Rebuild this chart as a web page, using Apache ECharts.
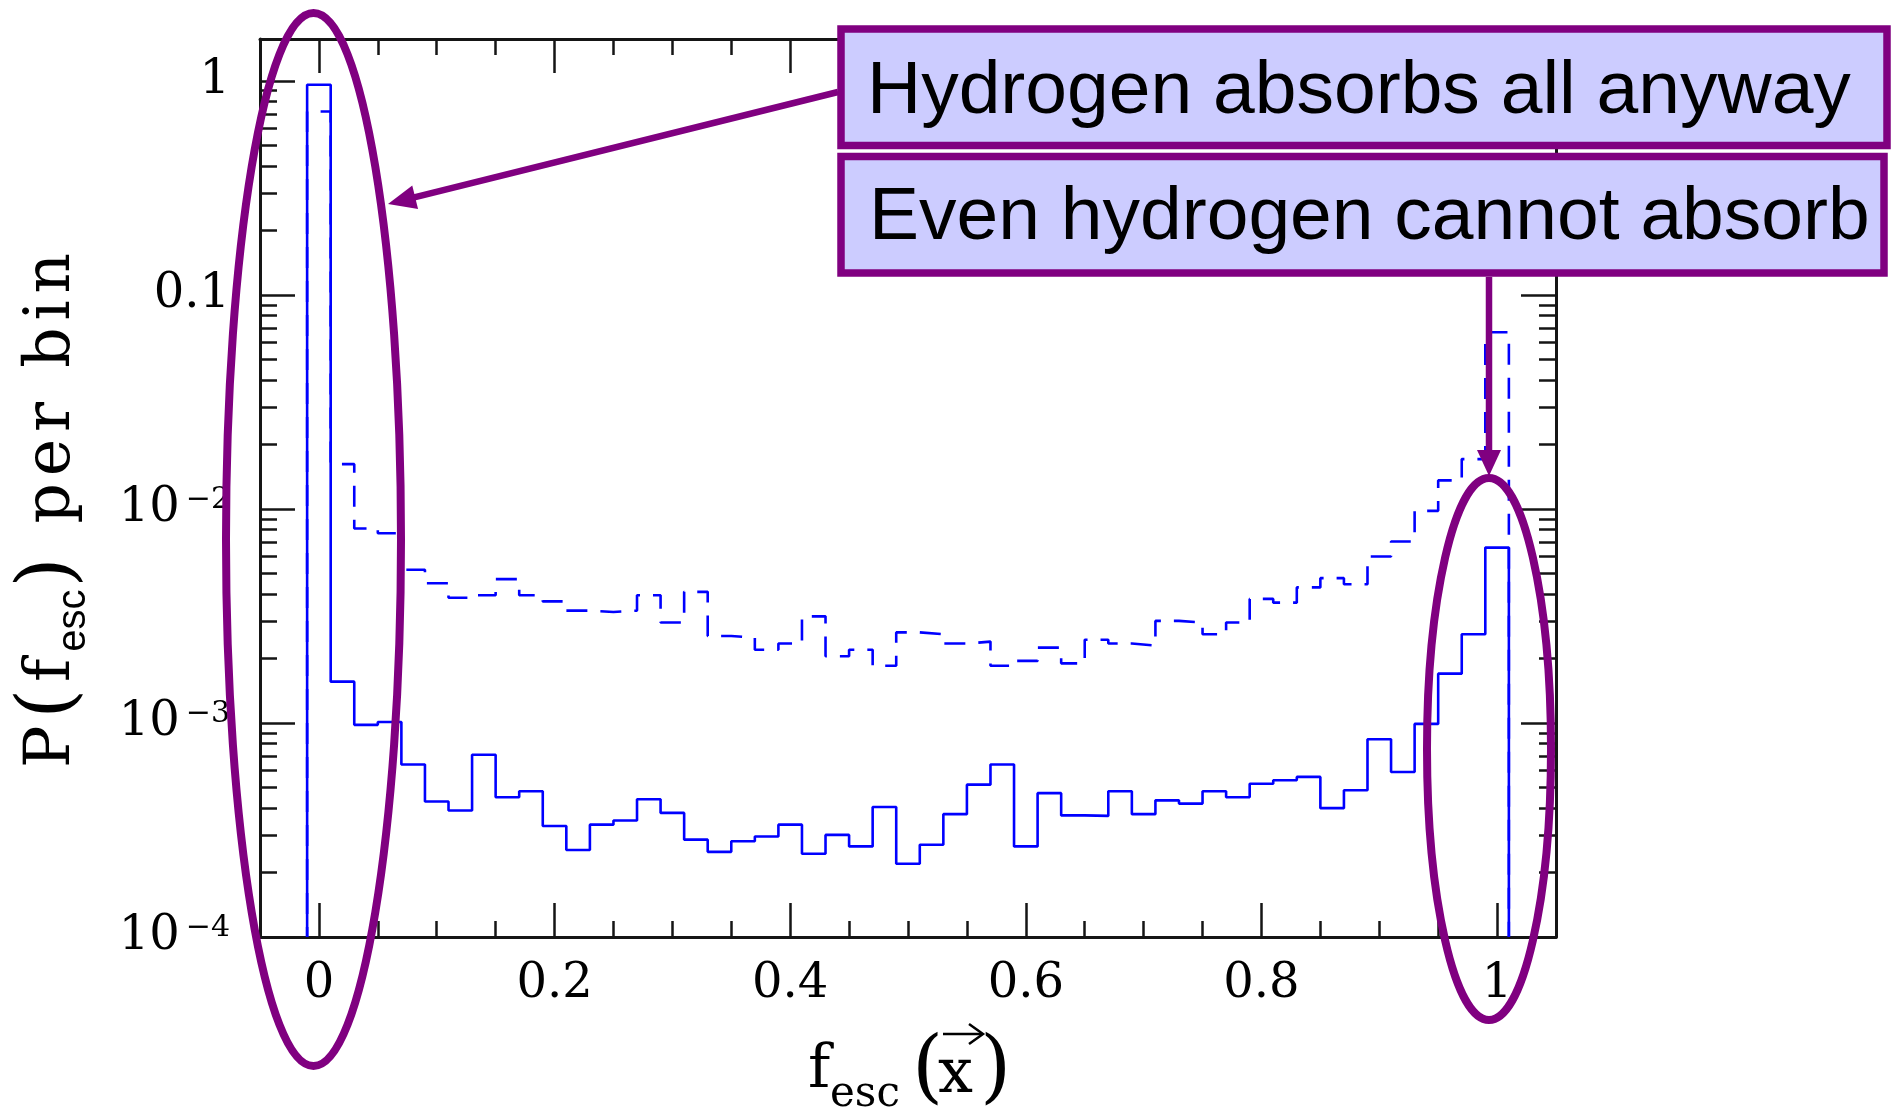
<!DOCTYPE html>
<html>
<head>
<meta charset="utf-8">
<script src="https://cdn.jsdelivr.net/npm/echarts@6.0.0/dist/echarts.min.js"></script>
<style>
  html, body { margin: 0; padding: 0; background: #ffffff; }
  #chart { width: 1899px; height: 1119px; }
</style>
</head>
<body>
<div id="chart"></div>
<script>
// Histogram bins of the escape fraction f_esc (bin width 0.02, centred on these values)
const binCenters = [
  0.00, 0.02, 0.04, 0.06, 0.08, 0.10, 0.12, 0.14, 0.16, 0.18,
  0.20, 0.22, 0.24, 0.26, 0.28, 0.30, 0.32, 0.34, 0.36, 0.38,
  0.40, 0.42, 0.44, 0.46, 0.48, 0.50, 0.52, 0.54, 0.56, 0.58,
  0.60, 0.62, 0.64, 0.66, 0.68, 0.70, 0.72, 0.74, 0.76, 0.78,
  0.80, 0.82, 0.84, 0.86, 0.88, 0.90, 0.92, 0.94, 0.96, 0.98,
  1.00
];
const binWidth = 0.02;

// P(f_esc) per bin, solid histogram
const probSolid = [
  0.96,    1.56e-3, 9.8e-4,  1.01e-3, 6.4e-4,  4.3e-4,  3.9e-4,  7.1e-4,  4.5e-4,  4.8e-4,
  3.3e-4,  2.55e-4, 3.35e-4, 3.5e-4,  4.4e-4,  3.8e-4,  2.85e-4, 2.5e-4,  2.8e-4,  2.95e-4,
  3.35e-4, 2.45e-4, 3.0e-4,  2.65e-4, 4.05e-4, 2.2e-4,  2.7e-4,  3.75e-4, 5.15e-4, 6.4e-4,
  2.65e-4, 4.7e-4,  3.7e-4,  3.68e-4, 4.8e-4,  3.75e-4, 4.35e-4, 4.2e-4,  4.8e-4,  4.5e-4,
  5.2e-4,  5.4e-4,  5.6e-4,  4.0e-4,  4.85e-4, 8.4e-4,  5.9e-4,  9.9e-4,  1.7e-3,  2.6e-3,
  6.6e-3
];

// P(f_esc) per bin, dashed histogram
const probDashed = [
  0.72,    1.62e-2, 8.1e-3,  7.7e-3,  5.2e-3,  4.5e-3,  3.85e-3, 3.95e-3, 4.7e-3,  3.95e-3,
  3.7e-3,  3.35e-3, 3.3e-3,  3.35e-3, 3.95e-3, 2.95e-3, 4.1e-3,  2.55e-3, 2.5e-3,  2.2e-3,
  2.35e-3, 3.15e-3, 2.05e-3, 2.2e-3,  1.85e-3, 2.65e-3, 2.6e-3,  2.35e-3, 2.4e-3,  1.85e-3,
  1.95e-3, 2.25e-3, 1.9e-3,  2.45e-3, 2.35e-3, 2.3e-3,  3.0e-3,  2.95e-3, 2.6e-3,  2.95e-3,
  3.8e-3,  3.65e-3, 4.3e-3,  4.75e-3, 4.45e-3, 6.0e-3,  7.05e-3, 9.8e-3,  1.36e-2, 1.71e-2,
  6.7e-2
];

// Axis ticks and labels
const xLabelValues = [0, 0.2, 0.4, 0.6, 0.8, 1];
const xLabelTexts  = ['0', '0.2', '0.4', '0.6', '0.8', '1'];
const xMinorTickValues = [
  0.05, 0.10, 0.15, 0.25, 0.30, 0.35, 0.45, 0.50, 0.55,
  0.65, 0.70, 0.75, 0.85, 0.90, 0.95
];
const yLabelDecades = [-4, -3, -2, -1, 0];          // log10 of P
const yLabelTexts   = ['10^−4', '10^−3', '10^−2', '0.1', '1'];
const yMinorMultipliers = [2, 3, 4, 5, 6, 7, 8, 9];

// Log-scaled vertical range (log10 P)
const Y_MIN = -4;
const Y_MAX = 0.196;
const X_MIN = -0.05;
const X_MAX = 1.05;

const yMinorTickValues = [];
for (let d = -4; d <= -1; d++) {
  yMinorMultipliers.forEach(m => yMinorTickValues.push(Math.log10(m * Math.pow(10, d))));
}

// Outline of a histogram as a stepped polyline through the bin edges
function histogramOutline(values) {
  const half = binWidth / 2;
  const pts = [[+(binCenters[0] - half).toFixed(4), Y_MIN]];
  values.forEach((v, i) => {
    pts.push([+(binCenters[i] - half).toFixed(4), Math.log10(v)]);
  });
  const lastEdge = +(binCenters[binCenters.length - 1] + half).toFixed(4);
  pts.push([lastEdge, Math.log10(values[values.length - 1])]);
  pts.push([lastEdge, Y_MIN]);
  return pts;
}

const INK = '#151515';
const SERIF = "'DejaVu Serif', 'Liberation Serif', serif";
const SANS = "'Liberation Sans', Arial, sans-serif";
const PURPLE = '#800080';
const LAVENDER = '#ccccff';
const BLUE = '#0000ff';

function findLabel(values, texts, v) {
  for (let i = 0; i < values.length; i++) {
    if (Math.abs(values[i] - v) < 1e-6) return texts[i];
  }
  return '';
}

function xAxisDef(position, ticks, tickLen, withLine, withLabels) {
  return {
    type: 'value', position: position, min: X_MIN, max: X_MAX,
    axisLine: { show: withLine, onZero: false, lineStyle: { color: INK, width: 3 } },
    axisTick: { show: true, inside: true, length: tickLen, customValues: ticks,
                lineStyle: { color: INK, width: 2.5 } },
    axisLabel: withLabels ? {
      show: true, customValues: xLabelValues, margin: 24,
      fontFamily: SERIF, fontSize: 48, color: '#000',
      formatter: v => findLabel(xLabelValues, xLabelTexts, v)
    } : { show: false },
    splitLine: { show: false }
  };
}

function yAxisDef(position, ticks, tickLen, withLine, withLabels) {
  return {
    type: 'value', position: position, min: Y_MIN, max: Y_MAX,
    axisLine: { show: withLine, onZero: false, lineStyle: { color: INK, width: 3 } },
    axisTick: { show: true, inside: true, length: tickLen, customValues: ticks,
                lineStyle: { color: INK, width: 2.5 } },
    axisLabel: withLabels ? {
      show: true, customValues: yLabelDecades, margin: 30,
      fontFamily: SERIF, fontSize: 48, color: '#000',
      formatter: v => {
        const t = findLabel(yLabelDecades, yLabelTexts, v);
        if (t.indexOf('^') < 0) return t;
        const parts = t.split('^');
        return '{b|' + parts[0] + '}{s|' + parts[1] + '}';
      },
      rich: {
        b: { fontFamily: SERIF, fontSize: 48, lineHeight: 48, color: '#000' },
        s: { fontFamily: SERIF, fontSize: 30, lineHeight: 28, color: '#000',
             verticalAlign: 'top', padding: [0, 0, 0, 6] }
      }
    } : { show: false },
    splitLine: { show: false }
  };
}

// ---------- annotation helpers ----------
function textEl(str, x, baseline, size, family, extra) {
  return {
    type: 'text', x: x, y: baseline - 0.346 * size, z: 120,
    style: Object.assign({
      text: str, font: size + 'px ' + family, fill: '#000',
      align: 'left', verticalAlign: 'middle'
    }, extra || {})
  };
}

function arrowEls(x0, y0, x1, y1, width, headLen, headHalf, color) {
  const dx = x1 - x0, dy = y1 - y0;
  const len = Math.sqrt(dx * dx + dy * dy);
  const ux = dx / len, uy = dy / len;
  const bx = x1 - ux * headLen, by = y1 - uy * headLen;
  const nx = -uy, ny = ux;
  return [
    { type: 'line', z: 110,
      shape: { x1: x0, y1: y0, x2: bx + ux * 2, y2: by + uy * 2 },
      style: { stroke: color, lineWidth: width } },
    { type: 'polygon', z: 110,
      shape: { points: [[x1, y1], [bx + nx * headHalf, by + ny * headHalf], [bx - nx * headHalf, by - ny * headHalf]] },
      style: { fill: color } }
  ];
}

// y-axis title, laid out along the text direction and then rotated
const measureCtx = document.createElement('canvas').getContext('2d');
function measure(str, font) { measureCtx.font = font; return measureCtx.measureText(str).width; }

function yTitleGroup() {
  const main = 63, paren = 76, sub = 40, gap = 7;
  const runs = [
    { t: 'P', size: main, fam: SERIF, dy: 0 },
    { t: '(', size: paren, fam: SERIF, dy: 4 },
    { t: 'f', size: main, fam: SERIF, dy: 0 },
    { t: 'esc', size: sub, fam: SANS, dy: 14, inner: 1 },
    { t: ')', size: paren, fam: SERIF, dy: 4 },
    { t: ' ', size: main, fam: SERIF, dy: 0 },
    { t: 'p', size: main, fam: SERIF, dy: 0 },
    { t: 'e', size: main, fam: SERIF, dy: 0 },
    { t: 'r', size: main, fam: SERIF, dy: 0 },
    { t: ' ', size: main, fam: SERIF, dy: 0 },
    { t: 'b', size: main, fam: SERIF, dy: 0 },
    { t: 'i', size: main, fam: SERIF, dy: 0 },
    { t: 'n', size: main, fam: SERIF, dy: 0 }
  ];
  const children = [];
  let cursor = 0;
  runs.forEach(r => {
    const font = r.size + 'px ' + r.fam;
    const w = measure(r.t, font);
    if (r.t !== ' ') children.push(textEl(r.t, cursor, r.dy, r.size, r.fam));
    cursor += w + (r.inner ? gap * 0.3 : gap);
  });
  return { type: 'group', x: 74, y: 768, rotation: Math.PI / 2, z: 120, children: children };
}

const graphics = [];
// y-axis title
graphics.push(yTitleGroup());
// x-axis title: f_esc( x with vector arrow )
graphics.push(textEl('f', 808, 1092, 60, SERIF));
graphics.push(textEl('esc', 830, 1110, 42, SERIF));
graphics.push(textEl('(', 912, 1100, 80, SERIF));
graphics.push(textEl('x', 938, 1097, 62, SERIF));
graphics.push(textEl(')', 980, 1100, 80, SERIF));
graphics.push({ type: 'polyline', z: 120,
  shape: { points: [[943, 1034], [982, 1034]] },
  style: { stroke: '#000', lineWidth: 2.5, fill: null } });
graphics.push({ type: 'polyline', z: 120,
  shape: { points: [[969, 1024], [983, 1034], [969, 1044]] },
  style: { stroke: '#000', lineWidth: 2.5, fill: null } });

// highlight ellipses around f_esc = 0 and f_esc = 1
graphics.push({ type: 'ellipse', z: 100,
  shape: { cx: 313.5, cy: 539.5, rx: 87.5, ry: 526.5 },
  style: { fill: null, stroke: PURPLE, lineWidth: 8 } });
graphics.push({ type: 'ellipse', z: 100,
  shape: { cx: 1489, cy: 749, rx: 62, ry: 271 },
  style: { fill: null, stroke: PURPLE, lineWidth: 8 } });

// callout boxes
graphics.push({ type: 'rect', z: 105,
  shape: { x: 841, y: 29, width: 1046, height: 116.5 },
  style: { fill: LAVENDER, stroke: PURPLE, lineWidth: 7.5 } });
graphics.push({ type: 'rect', z: 105,
  shape: { x: 841, y: 156.5, width: 1043, height: 116.5 },
  style: { fill: LAVENDER, stroke: PURPLE, lineWidth: 7.5 } });
graphics.push(textEl('Hydrogen absorbs all anyway', 867, 118, 75, SANS));
graphics.push(textEl('Even hydrogen cannot absorb', 869, 244.5, 75, SANS));

// callout arrows
arrowEls(838, 92, 388, 204, 6.5, 28, 12, PURPLE).forEach(e => graphics.push(e));
arrowEls(1489, 277, 1489, 476, 6.5, 26, 12, PURPLE).forEach(e => graphics.push(e));

const chart = echarts.init(document.getElementById('chart'), null, { renderer: 'canvas' });
chart.setOption({
  animation: false,
  backgroundColor: '#ffffff',
  grid: { left: 260, right: 343, top: 39, bottom: 182, containLabel: false },
  xAxis: [
    xAxisDef('bottom', xMinorTickValues, 16, true, true),
    xAxisDef('bottom', xLabelValues, 34, false, false),
    xAxisDef('top', xMinorTickValues, 16, true, false),
    xAxisDef('top', xLabelValues, 34, false, false)
  ],
  yAxis: [
    yAxisDef('left', yMinorTickValues, 17, true, true),
    yAxisDef('left', yLabelDecades, 35, false, false),
    yAxisDef('right', yMinorTickValues, 17, true, false),
    yAxisDef('right', yLabelDecades, 35, false, false)
  ],
  series: [
    {
      name: 'dashed', type: 'line', step: 'end', showSymbol: false, symbol: 'none',
      xAxisIndex: 0, yAxisIndex: 0, clip: true,
      lineStyle: { color: BLUE, width: 2.6, type: [21, 13], dashOffset: 11 },
      data: histogramOutline(probDashed), z: 3
    },
    {
      name: 'solid', type: 'line', step: 'end', showSymbol: false, symbol: 'none',
      xAxisIndex: 0, yAxisIndex: 0, clip: true,
      lineStyle: { color: BLUE, width: 2.6 },
      data: histogramOutline(probSolid), z: 4
    }
  ],
  graphic: graphics
});
</script>
</body>
</html>
